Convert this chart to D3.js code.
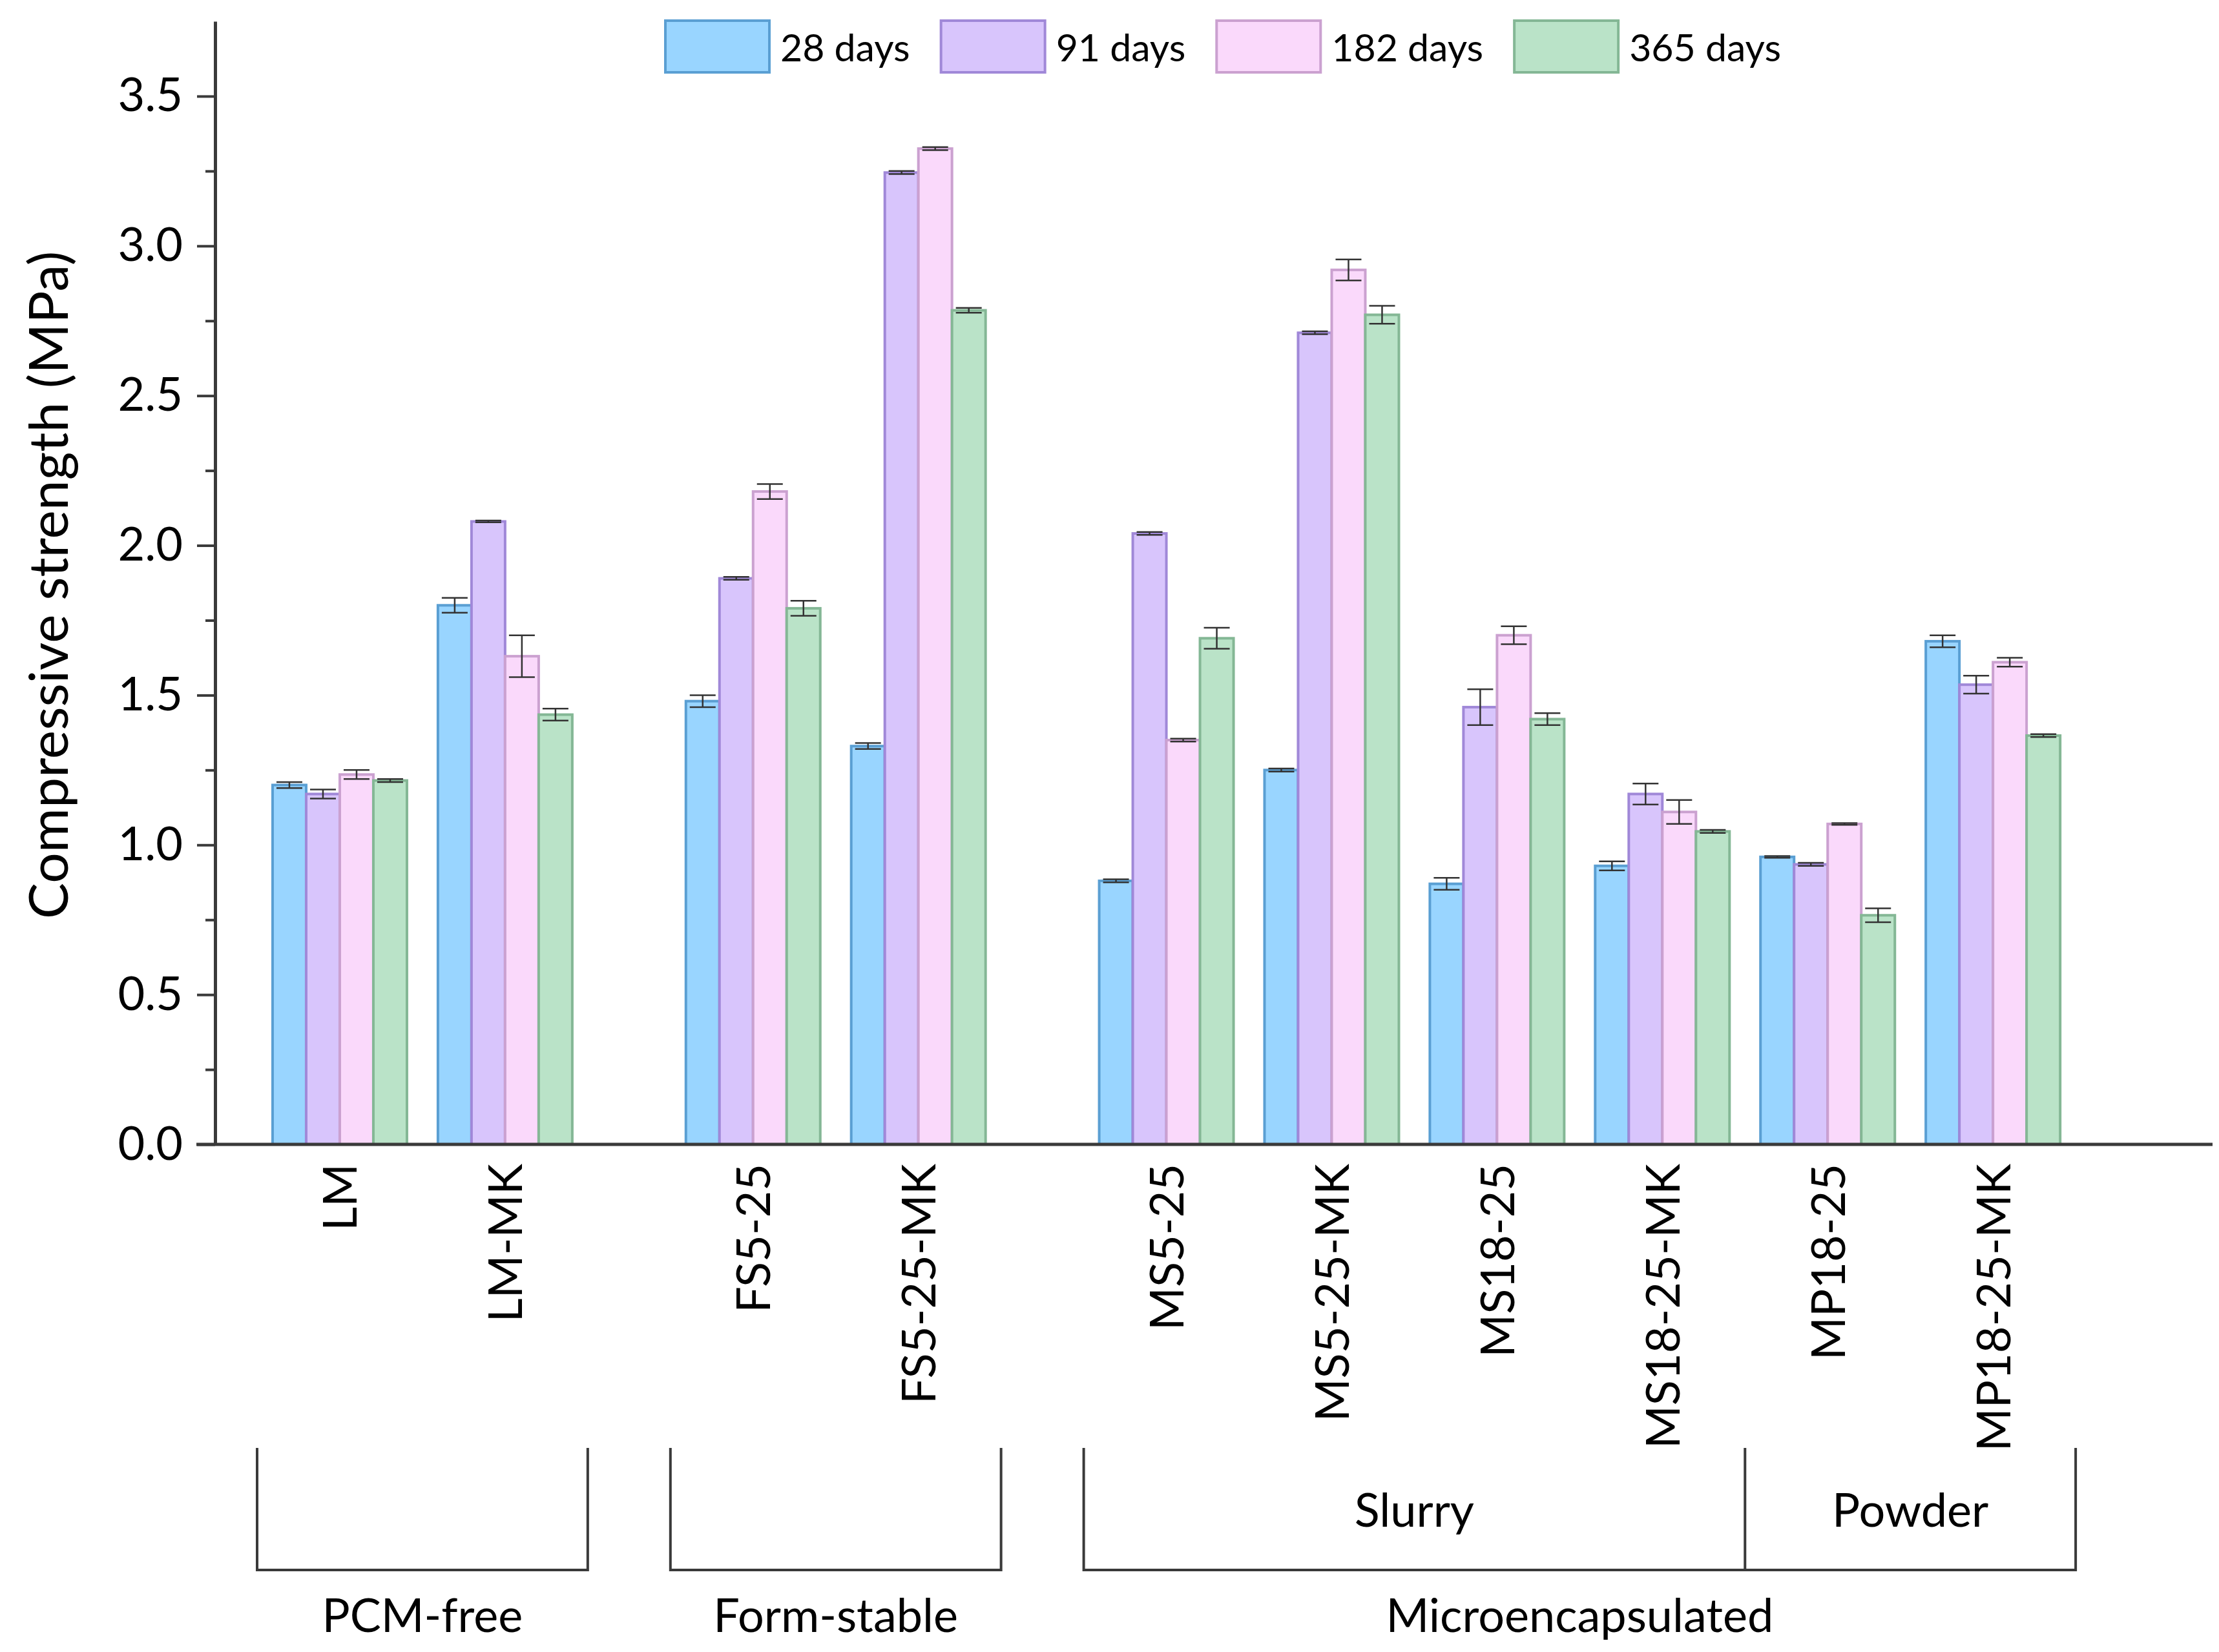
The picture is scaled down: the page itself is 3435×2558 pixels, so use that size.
<!DOCTYPE html>
<html>
<head>
<meta charset="utf-8">
<script src="https://cdn.jsdelivr.net/npm/d3@7"></script>
<style>
  html, body { margin: 0; padding: 0; background: #fff; }
  text { font-family: Lato, "Open Sans", sans-serif; fill: #000; }
</style>
</head>
<body>
<div id="chart"></div>
<script>
// ---------- datos ----------
const categories = ["LM", "LM-MK", "FS5-25", "FS5-25-MK", "MS5-25", "MS5-25-MK",
                    "MS18-25", "MS18-25-MK", "MP18-25", "MP18-25-MK"];
// grupo de cada probeta (0 PCM-free, 1 Form-stable, 2 Microencapsulated)
const catGroup = [0, 0, 1, 1, 2, 2, 2, 2, 2, 2];

const seriesNames = ["28 days", "91 days", "182 days", "365 days"];

const days28  = [1.20, 1.80, 1.48, 1.33, 0.88, 1.25, 0.87, 0.93, 0.96, 1.68];
const days91  = [1.17, 2.08, 1.89, 3.245, 2.04, 2.71, 1.46, 1.17, 0.935, 1.535];
const days182 = [1.235, 1.63, 2.18, 3.325, 1.35, 2.92, 1.70, 1.11, 1.07, 1.61];
const days365 = [1.215, 1.435, 1.79, 2.785, 1.69, 2.77, 1.42, 1.045, 0.765, 1.365];

const err28  = [0.010, 0.025, 0.020, 0.010, 0.005, 0.005, 0.020, 0.015, 0.003, 0.020];
const err91  = [0.015, 0.003, 0.005, 0.005, 0.005, 0.005, 0.060, 0.035, 0.005, 0.030];
const err182 = [0.015, 0.070, 0.025, 0.005, 0.005, 0.035, 0.030, 0.040, 0.003, 0.015];
const err365 = [0.005, 0.020, 0.025, 0.008, 0.035, 0.030, 0.020, 0.005, 0.023, 0.005];

const yTicks = [0, 0.5, 1.0, 1.5, 2.0, 2.5, 3.0, 3.5];
const yMinorTicks = [0.25, 0.75, 1.25, 1.75, 2.25, 2.75, 3.25];

// llaves inferiores: [primera, última] probeta y texto
const subBrackets = [
  { from: 4, to: 7, label: "Slurry" },
  { from: 8, to: 9, label: "Powder" }
];
const mainBrackets = [
  { from: 0, to: 1, label: "PCM-free" },
  { from: 2, to: 3, label: "Form-stable" },
  { from: 4, to: 9, label: "Microencapsulated" }
];

// ---------- estilo ----------
const fills   = ["#99d5ff", "#d8c5fc", "#fad9fb", "#bae3c8"];
const strokes = ["#5a9fd3", "#a088d8", "#cba1d0", "#84b795"];

const width = 3435, height = 2558;
const axisColor = "#3a3a3a";

const svg = d3.select("#chart").append("svg")
  .attr("width", width)
  .attr("height", height)
  .attr("viewBox", `0 0 ${width} ${height}`);

// posición de cada probeta: índice + medio hueco por grupo
const catPos = categories.map((c, i) => i + catGroup[i] * 0.5);

const x = d3.scaleLinear().domain([-0.754, 11.328]).range([333, 3425]);
const y = d3.scaleLinear().domain([0, 3.75]).range([1772, 33]);

const barW = 52;

const series = [
  { name: seriesNames[0], values: days28,  errs: err28 },
  { name: seriesNames[1], values: days91,  errs: err91 },
  { name: seriesNames[2], values: days182, errs: err182 },
  { name: seriesNames[3], values: days365, errs: err365 }
];

// ---------- barras ----------
series.forEach((s, si) => {
  const g = svg.append("g");
  g.selectAll("rect")
    .data(s.values)
    .join("rect")
    .attr("x", (d, i) => x(catPos[i]) + (si - 2) * barW)
    .attr("y", d => y(d))
    .attr("width", barW)
    .attr("height", d => y(0) - y(d))
    .attr("fill", fills[si])
    .attr("stroke", strokes[si])
    .attr("stroke-width", 4);

  // barras de error
  const eb = g.selectAll("g.err")
    .data(s.values.map((v, i) => ({ v, e: s.errs[i], cx: x(catPos[i]) + (si - 1.5) * barW })))
    .join("g").attr("class", "err")
    .attr("stroke", "#333").attr("stroke-width", 2.5);
  eb.append("line")
    .attr("x1", d => d.cx).attr("x2", d => d.cx)
    .attr("y1", d => y(d.v - d.e)).attr("y2", d => y(d.v + d.e));
  eb.append("line")
    .attr("x1", d => d.cx - 20).attr("x2", d => d.cx + 20)
    .attr("y1", d => y(d.v + d.e)).attr("y2", d => y(d.v + d.e));
  eb.append("line")
    .attr("x1", d => d.cx - 20).attr("x2", d => d.cx + 20)
    .attr("y1", d => y(d.v - d.e)).attr("y2", d => y(d.v - d.e));
});

// ---------- eje Y ----------
const yAxis = svg.append("g")
  .attr("transform", "translate(333,0)")
  .call(d3.axisLeft(y).tickValues(yTicks).tickSize(28).tickSizeOuter(0)
    .tickPadding(22).tickFormat(d3.format(".1f")));
yAxis.selectAll("text").attr("font-size", 72).attr("font-family", "Lato, sans-serif");
yAxis.selectAll("line").attr("stroke", axisColor).attr("stroke-width", 4);
yAxis.select(".domain").attr("stroke", axisColor).attr("stroke-width", 5);

const yMinor = svg.append("g")
  .attr("transform", "translate(333,0)")
  .call(d3.axisLeft(y).tickValues(yMinorTicks).tickSize(15).tickFormat(""));
yMinor.select(".domain").remove();
yMinor.selectAll("line").attr("stroke", axisColor).attr("stroke-width", 4);

svg.append("text")
  .attr("transform", "translate(72,906) rotate(-90)")
  .attr("text-anchor", "middle")
  .attr("dominant-baseline", "central")
  .attr("font-size", 84)
  .text("Compressive strength (MPa)");

// ---------- eje X ----------
svg.append("line")
  .attr("x1", 304).attr("x2", 3425)
  .attr("y1", y(0)).attr("y2", y(0))
  .attr("stroke", axisColor).attr("stroke-width", 5);

const xAxis = svg.append("g")
  .attr("transform", `translate(0,${y(0)})`)
  .call(d3.axisBottom(x).tickValues(catPos).tickSize(0)
    .tickFormat((d, i) => categories[i]));
xAxis.select(".domain").remove();
xAxis.selectAll("text")
  .attr("font-size", 72)
  .attr("font-family", "Lato, sans-serif")
  .attr("text-anchor", "end")
  .attr("transform", "translate(0,30) rotate(-90)")
  .attr("x", 0).attr("y", 0)
  .attr("dy", "0.36em");

// ---------- llaves de grupos ----------
const bx0 = i => x(catPos[i] - 0.5);
const bx1 = i => x(catPos[i] + 0.5);
const bTop = 2242, bBot = 2431;

const br = svg.append("g").attr("fill", "none").attr("stroke", axisColor).attr("stroke-width", 4);
mainBrackets.forEach(b => {
  br.append("path")
    .attr("d", `M${bx0(b.from)},${bTop}V${bBot}H${bx1(b.to)}V${bTop}`);
  svg.append("text")
    .attr("x", (bx0(b.from) + bx1(b.to)) / 2)
    .attr("y", 2527)
    .attr("text-anchor", "middle")
    .attr("font-size", 72)
    .text(b.label);
});
subBrackets.forEach((b, k) => {
  if (k > 0) {
    br.append("line")
      .attr("x1", bx0(b.from)).attr("x2", bx0(b.from))
      .attr("y1", bTop).attr("y2", bBot);
  }
  svg.append("text")
    .attr("x", (bx0(b.from) + bx1(b.to)) / 2)
    .attr("y", 2364)
    .attr("text-anchor", "middle")
    .attr("font-size", 72)
    .text(b.label);
});

// ---------- leyenda ----------
const legend = svg.append("g");
let lx = 1030;
seriesNames.forEach((name, i) => {
  legend.append("rect")
    .attr("x", lx).attr("y", 32)
    .attr("width", 161).attr("height", 80)
    .attr("fill", fills[i])
    .attr("stroke", strokes[i])
    .attr("stroke-width", 4);
  const t = legend.append("text")
    .attr("x", lx + 178).attr("y", 72)
    .attr("dominant-baseline", "central")
    .attr("font-size", 59)
    .text(name);
  lx += 178 + t.node().getComputedTextLength() + 48;
});
</script>
</body>
</html>
